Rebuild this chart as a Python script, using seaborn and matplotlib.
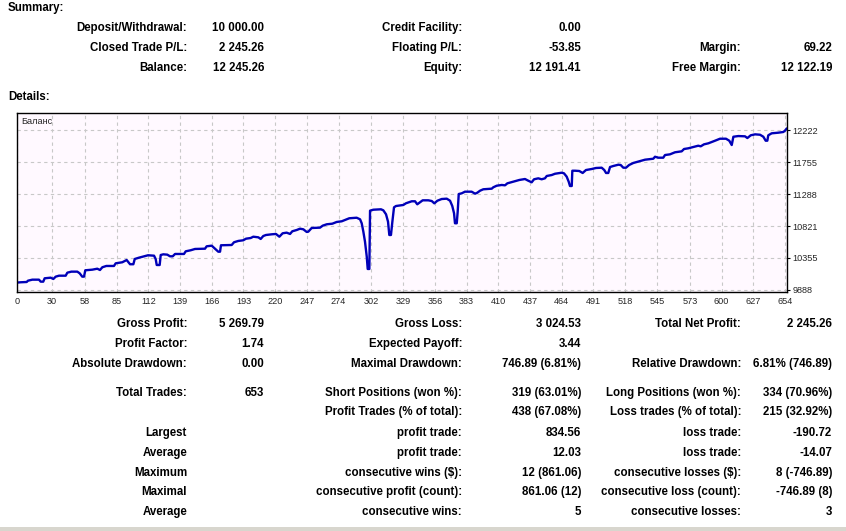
import matplotlib
matplotlib.use("Agg")
import matplotlib.pyplot as plt
import seaborn as sns
from matplotlib.patches import Rectangle

# Balance curve (trade number, balance)
trade_no = [0, 3.4, 8.5, 9.6, 13.3, 19, 20.4, 22.6, 23.8, 28.9, 31.2, 33.2, 36, 41.7, 43.1, 46.5,
            51.6, 53.6, 55.8, 57.3, 58.4, 64.4, 68.6, 70.9, 72.9, 76.3, 82.8, 84.3, 89.9, 93.6,
            96.5, 99.3, 100.5, 104.1, 108.4, 111.8, 116.9, 118.3, 119.2, 121.7, 122.6, 124.8,
            128.2, 130.5, 132.8, 134.8, 142.4, 143.9, 148.1, 151.8, 160.3, 161.7, 166, 171.6,
            173.1, 173.9, 183, 185, 188.6, 192.9, 195.2, 199.2, 201.4, 205.7, 207.7, 209.9,
            212.2, 217.1, 220.7, 223.6, 226.4, 229.8, 232.7, 234.6, 238.4, 241.2, 244, 246.9,
            248.2, 251.1, 258.2, 260.5, 263.9, 268.7, 272.4, 276.7, 279.5, 283.1, 289.4, 292.3,
            293.7, 295.1, 296.5, 298, 298.8, 300.2, 300.8, 303.6, 310.1, 312.1, 314.4, 316.1,
            317.2, 318.6, 319.8, 321.2, 322.9, 329.1, 331.4, 336.3, 339.1, 341, 343.3, 345.6,
            350.4, 353.3, 355.5, 358.1, 361.8, 366.1, 368.9, 370.8, 372.3, 373.1, 374.6, 375.4,
            376.3, 378.8, 381.6, 387.3, 390.2, 392.1, 394.4, 397.2, 404.4, 405.7, 408.6, 412.9,
            415.7, 417.7, 422.8, 427.9, 432.7, 435.5, 438.4, 440.4, 444, 446.9, 449.7, 451.2,
            455.4, 458.3, 464, 465.9, 468.2, 469.9, 471, 472.5, 473, 475.3, 478.9, 481.8, 484.6,
            489.5, 493.2, 498, 500.2, 501.7, 503.6, 505.1, 507.9, 512.2, 514.2, 516.4, 518.7,
            521.3, 524.9, 527.8, 530.6, 534.9, 541.9, 543.4, 546.2, 550.4, 551.9, 556.1, 560.4,
            566.1, 568.1, 571.7, 576, 580.2, 582.3, 585.1, 588.8, 591.7, 594.5, 598.7, 603.8,
            606.6, 608.7, 610.1, 614.3, 620, 622, 624.9, 628.6, 632.8, 635.6, 637.6, 639, 639.8,
            642.7, 648.3, 652.6, 654, 655.5]
balance = [9995, 10000, 10004, 10023, 10038, 10038, 10009, 10009, 10058, 10067, 10048, 10082,
           10096, 10096, 10140, 10155, 10155, 10131, 10082, 10082, 10175, 10184, 10198, 10179,
           10219, 10238, 10238, 10277, 10292, 10325, 10263, 10263, 10340, 10359, 10379, 10394,
           10388, 10340, 10252, 10252, 10398, 10408, 10403, 10379, 10379, 10413, 10413, 10452,
           10467, 10486, 10490, 10525, 10534, 10446, 10446, 10540, 10544, 10584, 10603, 10613,
           10636, 10646, 10665, 10656, 10632, 10675, 10690, 10700, 10705, 10665, 10715, 10724,
           10705, 10744, 10763, 10782, 10773, 10734, 10738, 10792, 10797, 10826, 10846, 10855,
           10880, 10890, 10909, 10934, 10942, 10919, 10861, 10738, 10592, 10373, 10194, 10194,
           11045, 11059, 11065, 11050, 10992, 10884, 10690, 10690, 10884, 11094, 11113, 11128,
           11153, 11182, 11182, 11138, 11167, 11196, 11196, 11186, 11152, 11190, 11215, 11220,
           11190, 11113, 11007, 10861, 10861, 11030, 11288, 11298, 11322, 11322, 11293, 11307,
           11336, 11357, 11366, 11386, 11409, 11420, 11415, 11444, 11468, 11493, 11507, 11482,
           11459, 11503, 11517, 11503, 11517, 11551, 11565, 11584, 11599, 11590, 11541, 11468,
           11405, 11405, 11628, 11628, 11624, 11595, 11638, 11653, 11668, 11672, 11638, 11595,
           11595, 11682, 11697, 11716, 11711, 11672, 11672, 11711, 11741, 11755, 11770, 11789,
           11803, 11832, 11818, 11818, 11857, 11867, 11897, 11911, 11945, 11955, 11974, 11993,
           11984, 12013, 12028, 12047, 12066, 12095, 12095, 12066, 12003, 12124, 12134, 12130,
           12105, 12145, 12159, 12153, 12124, 12066, 12066, 12145, 12174, 12183, 12193, 12212,
           12245]

x_tick_labels = [0, 30, 58, 85, 112, 139, 166, 193, 220, 247, 274, 302, 329, 356, 383, 410,
                 437, 464, 491, 518, 545, 573, 600, 627, 654]
y_tick_labels = [9888, 10355, 10821, 11288, 11755, 12222]

# Summary block
sum_labels_1 = ["Deposit/Withdrawal:", "Closed Trade P/L:", "Balance:"]
sum_values_1 = ["10 000.00", "2 245.26", "12 245.26"]
sum_labels_2 = ["Credit Facility:", "Floating P/L:", "Equity:"]
sum_values_2 = ["0.00", "-53.85", "12 191.41"]
sum_labels_3 = ["", "Margin:", "Free Margin:"]
sum_values_3 = ["", "69.22", "12 122.19"]

# Details block
det_labels_1 = ["Gross Profit:", "Profit Factor:", "Absolute Drawdown:", "Total Trades:", "",
                "Largest", "Average", "Maximum", "Maximal", "Average"]
det_values_1 = ["5 269.79", "1.74", "0.00", "653", "", "", "", "", "", ""]
det_labels_2 = ["Gross Loss:", "Expected Payoff:", "Maximal Drawdown:", "Short Positions (won %):",
                "Profit Trades (% of total):", "profit trade:", "profit trade:",
                r"consecutive wins (\$):", "consecutive profit (count):", "consecutive wins:"]
det_values_2 = ["3 024.53", "3.44", "746.89 (6.81%)", "319 (63.01%)", "438 (67.08%)", "834.56",
                "12.03", "12 (861.06)", "861.06 (12)", "5"]
det_labels_3 = ["Total Net Profit:", "", "Relative Drawdown:", "Long Positions (won %):",
                "Loss trades (% of total):", "loss trade:", "loss trade:",
                r"consecutive losses (\$):", "consecutive loss (count):", "consecutive losses:"]
det_values_3 = ["2 245.26", "", "6.81% (746.89)", "334 (70.96%)", "215 (32.92%)", "-190.72",
                "-14.07", "8 (-746.89)", "-746.89 (8)", "3"]

sns.set_style("white")
plt.rcParams['font.family'] = ['Liberation Sans', 'DejaVu Sans']

W, H = 846, 531
fig = plt.figure(figsize=(W / 100, H / 100), dpi=100)
fig.patch.set_facecolor("white")


def px(x, y):
    return x / W, 1 - y / H


def put(x, y, s, ha="right", bold=True, size=8.3):
    fx, fy = px(x, y)
    fig.text(fx, fy, s, ha=ha, va="center", fontsize=size,
             fontweight="bold" if bold else "normal", color="black")


put(8, 8, "Summary:", ha="left")
put(8, 97, "Details:", ha="left")

sum_y = [28, 48, 68]
for i, y in enumerate(sum_y):
    put(187, y, sum_labels_1[i])
    put(264, y, sum_values_1[i])
    put(462, y, sum_labels_2[i])
    put(581, y, sum_values_2[i])
    put(741, y, sum_labels_3[i])
    put(832, y, sum_values_3[i])

det_y = [324, 344, 364, 393, 412, 433, 453, 473, 492, 512]
for i, y in enumerate(det_y):
    put(187, y, det_labels_1[i])
    put(264, y, det_values_1[i])
    put(462, y, det_labels_2[i])
    put(581, y, det_values_2[i])
    put(741, y, det_labels_3[i])
    put(832, y, det_values_3[i])

# chart
left, right, top, bottom = 16.7, 787.3, 113.3, 292
ax = fig.add_axes([left / W, 1 - bottom / H, (right - left) / W, (bottom - top) / H])
ax.set_facecolor("#FFF9FF")
sns.lineplot(x=trade_no, y=balance, ax=ax, color="#0000B8", linewidth=1.7,
             sort=False, estimator=None)
ax.set_xlim(0, 656)
ax.set_ylim(9858, 12466)
ax.set_xticks(x_tick_labels)
ax.set_xticklabels([str(v) for v in x_tick_labels])
ax.set_yticks(y_tick_labels)
ax.set_yticklabels([str(v) for v in y_tick_labels])
ax.yaxis.tick_right()
ax.tick_params(axis="both", labelsize=6.6, length=2, width=0.8, pad=1.5, color="black")
ax.grid(True, color="#C8C8C8", linestyle=(0, (3, 3)), linewidth=0.8)
for sp in ax.spines.values():
    sp.set_color("black")
    sp.set_linewidth(1)
ax.set_xlabel("")
ax.set_ylabel("")
ax.text(0.006, 0.955, "Баланс", transform=ax.transAxes, ha="left", va="center", fontsize=6.6)

# bottom separator bar
fig.patches.append(Rectangle((0, 0), 1, 4 / H, transform=fig.transFigure,
                             facecolor="#D8D6CE", edgecolor="none"))

fig.savefig("out.png", dpi=100)
